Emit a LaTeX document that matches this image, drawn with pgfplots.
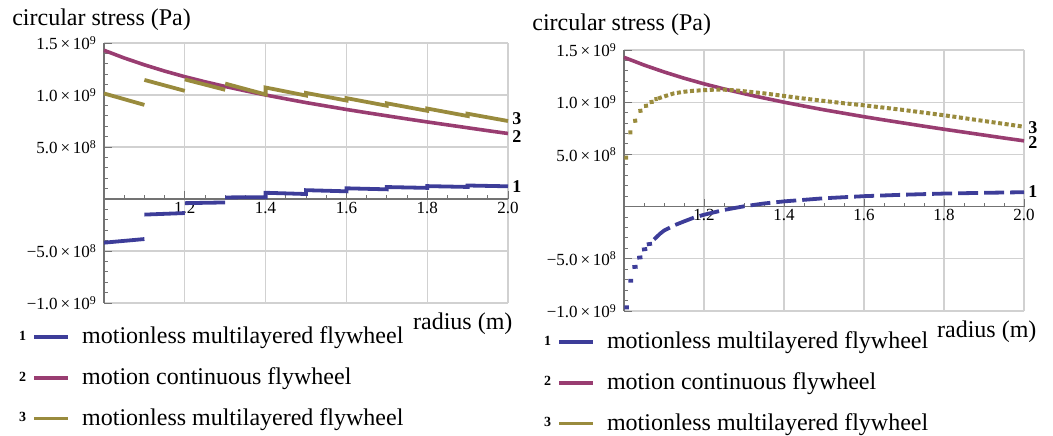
\documentclass[border=0pt]{standalone}
\usepackage{fontspec}
\setmainfont{Liberation Serif}
\usepackage{pgfplots}
\pgfplotsset{compat=1.18}
\definecolor{c1}{RGB}{61,61,153}
\definecolor{c2}{RGB}{153,61,113}
\definecolor{c3}{RGB}{153,139,61}
\tikzset{
  numlab/.style={anchor=west, inner sep=0pt, xshift=2pt, text=black, font=\bfseries\fontsize{9}{9}\selectfont},
  alab/.style={inner sep=0pt, font=\fontsize{12}{14}\selectfont},
}
\pgfplotsset{
  leg/.style n args={2}{legend image code/.code={%
      \fill[#2, draw=none] (0pt,-0.85pt) rectangle (17pt,0.85pt);
      \node[anchor=east, inner sep=0pt, text=black, font=\bfseries\fontsize{7}{7}\selectfont] at (-4pt,0pt) {#1};}},
  base/.style={
    scale only axis, anchor=south west,
    xmin=1, xmax=2, ymin=-10, ymax=15,
    axis y line*=left, axis x line*=middle,
    xtick={1.2,1.4,1.6,1.8,2.0},
    xticklabels={1.2,1.4,1.6,1.8,2.0},
    minor xtick={1.05,1.1,1.15,1.25,1.3,1.35,1.45,1.5,1.55,1.65,1.7,1.75,1.85,1.9,1.95},
    ytick={-10,-5,5,10,15},
    yticklabels={{−1.0\,×\,10\textsuperscript{9}},{−5.0\,×\,10\textsuperscript{8}},{5.0\,×\,10\textsuperscript{8}},{1.0\,×\,10\textsuperscript{9}},{1.5\,×\,10\textsuperscript{9}}},
    minor ytick={-9,-8,-7,-6,-4,-3,-2,-1,0,1,2,3,4,6,7,8,9,11,12,13,14},
    grid=major, major grid style={black!18, line width=0.6pt},
    axis line style={black!55, line width=0.6pt},
    tick style={black!55, line width=0.5pt},
    major tick length=4pt, minor tick length=2pt,
    tick align=inside,
    ticklabel style={font=\fontsize{8.5}{10}\selectfont},
    xticklabel style={yshift=2pt},
    clip=false,
    unbounded coords=jump,
    legend cell align=left,
    legend style={draw=none, fill=none, anchor=north west, inner sep=0pt, outer sep=0pt,
      row sep=6.5pt, font=\fontsize{12}{14}\selectfont,
      /tikz/every odd column/.append style={column sep=5pt}},
  },
}
\begin{document}
\begin{tikzpicture}
\path[use as bounding box] (0,0) rectangle (526.5pt,217.5pt);
% ---------------- left ----------------
\begin{axis}[base, at={(52pt,66pt)}, width=202pt, height=130pt,
  legend style={at={(axis description cs:-0.21,-0.077)}}]
\addplot[c1, line width=1.9pt, leg={1}{c1}] coordinates {
(1.0,-4.2) (1.1,-3.85) (1.1,nan)
(1.1,-1.5) (1.2,-1.35) (1.2,nan)
(1.2,-0.4) (1.3,-0.33) (1.3,nan)
(1.3,0.15) (1.4,0.18)
(1.4,0.6) (1.5,0.48)
(1.5,0.85) (1.6,0.74)
(1.6,1.03) (1.7,0.93)
(1.7,1.15) (1.8,1.07)
(1.8,1.24) (1.9,1.16)
(1.9,1.3) (2.0,1.22)};
\addlegendentry{motionless multilayered flywheel}
\addplot[c2, line width=1.8pt, leg={2}{c2}] coordinates {
(1.0,14.30) (1.05,13.56) (1.1,12.90) (1.15,12.30) (1.2,11.76) (1.25,11.27)
(1.3,10.82) (1.35,10.40) (1.4,10.00) (1.45,9.63) (1.5,9.27) (1.55,8.94)
(1.6,8.61) (1.65,8.30) (1.7,8.00) (1.75,7.70) (1.8,7.41) (1.85,7.13)
(1.9,6.85) (1.95,6.57) (2.0,6.30)};
\addlegendentry{motion continuous flywheel}
\addplot[c3, line width=1.9pt, leg={3}{c3}] coordinates {
(1.0,10.15) (1.1,9.05) (1.1,nan)
(1.1,11.45) (1.2,10.4) (1.2,nan)
(1.2,11.5) (1.3,10.5) (1.3,nan)
(1.3,11.1) (1.4,10.05)
(1.4,10.72) (1.5,9.95)
(1.5,10.2) (1.6,9.47)
(1.6,9.7) (1.7,8.97)
(1.7,9.2) (1.8,8.48)
(1.8,8.7) (1.9,7.98)
(1.9,8.2) (2.0,7.5)};
\addlegendentry{motionless multilayered flywheel}
\node[numlab] at (axis cs:2,7.7) {3};
\node[numlab] at (axis cs:2,6.05) {2};
\node[numlab] at (axis cs:2,1.2) {1};
\node[alab, anchor=west] at (axis description cs:-0.228,1.088) {circular stress (Pa)};
\node[alab, anchor=east] at (axis description cs:1.012,-0.081) {radius (m)};
\end{axis}
% ---------------- right ----------------
\begin{axis}[base, at={(312pt,62pt)}, width=200pt, height=130.5pt,
  legend style={at={(axis description cs:-0.2,-0.065)}}]
\addplot[c1, line width=1.9pt, leg={1}{c1}, dash pattern=on 10pt off 3pt] coordinates {
(1.075,-3.15) (1.09,-2.6) (1.1,-2.3) (1.125,-1.8) (1.15,-1.42) (1.175,-1.05)
(1.2,-0.78) (1.25,-0.32) (1.3,0.03) (1.35,0.3) (1.4,0.5) (1.5,0.8)
(1.6,1.0) (1.7,1.14) (1.8,1.25) (1.9,1.32) (2.0,1.38)};
\addlegendentry{motionless multilayered flywheel}
\addplot[c2, line width=1.8pt, leg={2}{c2}] coordinates {
(1.0,14.30) (1.05,13.56) (1.1,12.90) (1.15,12.30) (1.2,11.76) (1.25,11.27)
(1.3,10.82) (1.35,10.40) (1.4,10.00) (1.45,9.63) (1.5,9.27) (1.55,8.94)
(1.6,8.61) (1.65,8.30) (1.7,8.00) (1.75,7.70) (1.8,7.41) (1.85,7.13)
(1.9,6.85) (1.95,6.57) (2.0,6.30)};
\addlegendentry{motion continuous flywheel}
\addplot[c3, line width=2pt, leg={3}{c3}, dash pattern=on 2pt off 1.3pt] coordinates {
(1.085,10.35) (1.1,10.55) (1.125,10.85) (1.15,11.0) (1.175,11.1) (1.2,11.15)
(1.225,11.2) (1.25,11.2) (1.275,11.15) (1.3,11.05) (1.35,10.85) (1.4,10.6)
(1.45,10.35) (1.5,10.12) (1.55,9.9) (1.6,9.7) (1.7,9.25) (1.8,8.75)
(1.9,8.2) (2.0,7.65)};
\addlegendentry{motionless multilayered flywheel}
% short steps near the inner radius
\addplot[c1, line width=1.9pt, forget plot] coordinates {
(1.001,-9.65) (1.012,-9.65) (1.012,nan)
(1.011,-7.1) (1.023,-7.1) (1.023,nan)
(1.021,-5.8) (1.034,-5.75) (1.034,nan)
(1.033,-4.9) (1.046,-4.85) (1.046,nan)
(1.045,-4.12) (1.058,-4.05) (1.058,nan)
(1.057,-3.62) (1.07,-3.55)};
\addplot[c3, line width=2pt, forget plot] coordinates {
(1.001,4.7) (1.01,4.7) (1.01,nan)
(1.011,7.1) (1.021,7.1) (1.021,nan)
(1.023,8.2) (1.033,8.25) (1.033,nan)
(1.036,9.15) (1.046,9.2) (1.046,nan)
(1.05,9.63) (1.06,9.68) (1.06,nan)
(1.064,10.0) (1.074,10.05) (1.074,nan)
(1.076,10.28) (1.084,10.32)};
\node[numlab] at (axis cs:2,7.56) {3};
\node[numlab] at (axis cs:2,6.12) {2};
\node[numlab] at (axis cs:2,1.4) {1};
\node[alab, anchor=west] at (axis description cs:-0.23,1.096) {circular stress (Pa)};
\node[alab, anchor=east] at (axis description cs:1.032,-0.08) {radius (m)};
\end{axis}
\end{tikzpicture}
\end{document}
